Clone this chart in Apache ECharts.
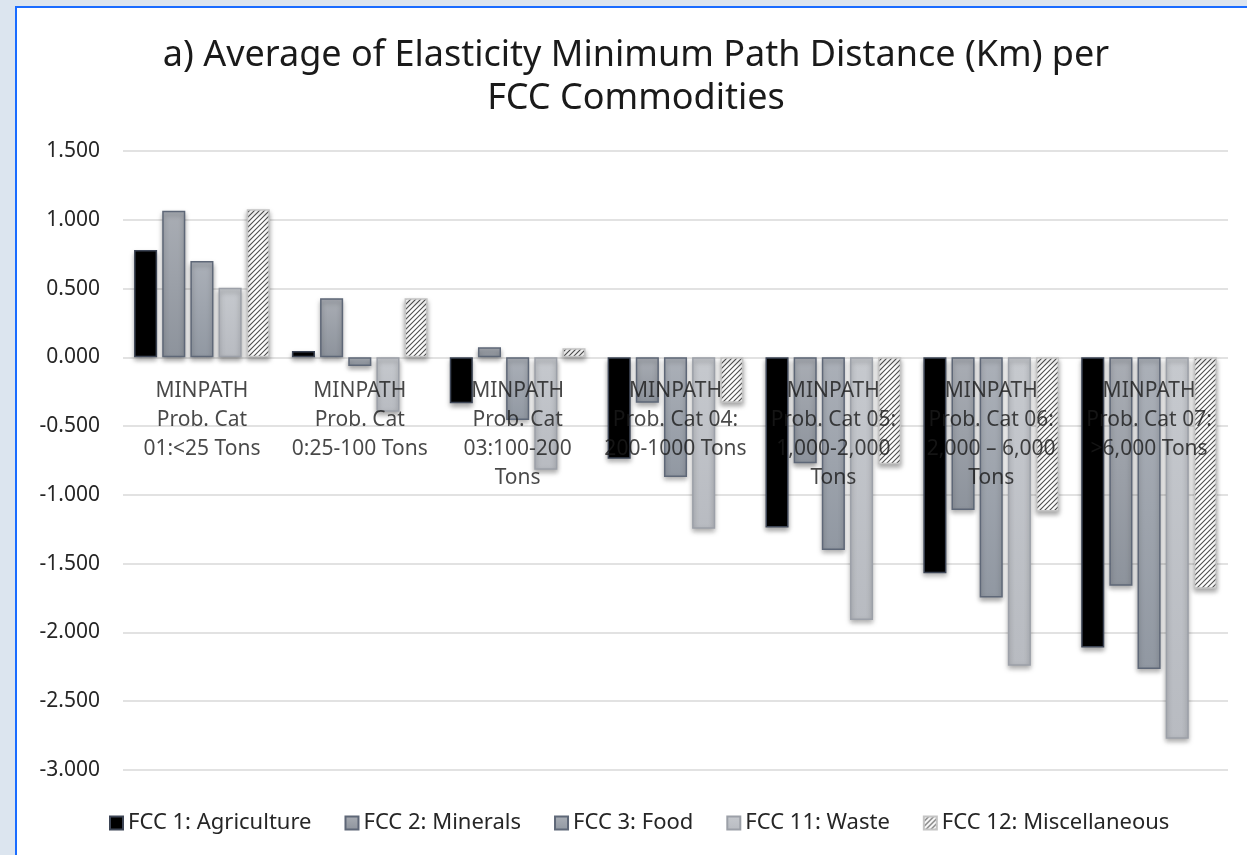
<!DOCTYPE html>
<html>
<head>
<meta charset="utf-8">
<script src="https://cdn.jsdelivr.net/npm/echarts@6/dist/echarts.min.js"></script>
<style>
  html, body { margin: 0; padding: 0; width: 1247px; height: 855px; overflow: hidden; background: #dce5ef; }
  #frame { position: absolute; left: 15px; top: 6px; width: 1240px; height: 860px; background: #ffffff;
           border-left: 2px solid #1a6cff; border-top: 2px solid #1a6cff; }
  #chart { position: absolute; left: 0; top: 0; width: 1247px; height: 855px; }
</style>
</head>
<body>
<div id="frame"></div>
<div id="chart"></div>
<script>
// Tonnage categories (axis labels, wrapped as they are displayed)
const categories = [
  'MINPATH\nProb. Cat\n01:<25 Tons',
  'MINPATH\nProb. Cat\n0:25-100 Tons',
  'MINPATH\nProb. Cat\n03:100-200\nTons',
  'MINPATH\nProb. Cat 04:\n200-1000 Tons',
  'MINPATH\nProb. Cat 05:\n1,000-2,000\nTons',
  'MINPATH\nProb. Cat 06:\n2,000 \u2013 6,000\nTons',
  'MINPATH\nProb. Cat 07:\n>6,000 Tons'
];

// Average elasticity per commodity group
const agriculture   = [0.780, 0.046, -0.334, -0.738, -1.237, -1.569, -2.110];
const minerals      = [1.066, 0.430,  0.073, -0.330, -0.770, -1.109, -1.661];
const food          = [0.700, -0.063, -0.455, -0.870, -1.400, -1.746, -2.265];
const waste         = [0.506, -0.395, -0.818, -1.247, -1.910, -2.243, -2.773];
const miscellaneous = [1.076, 0.430,  0.066, -0.330, -0.777, -1.120, -1.683];

const seriesNames = ['FCC 1: Agriculture', 'FCC 2: Minerals', 'FCC 3: Food', 'FCC 11: Waste', 'FCC 12: Miscellaneous'];

// Diagonal hatch tile for the miscellaneous bars
function hatchTile() {
  const c = document.createElement('canvas');
  c.width = 5; c.height = 5;
  const g = c.getContext('2d');
  g.fillStyle = '#ffffff';
  g.fillRect(0, 0, 5, 5);
  g.strokeStyle = '#505050';
  g.lineWidth = 1.1;
  g.beginPath();
  g.moveTo(0, 5); g.lineTo(5, 0);
  g.moveTo(-1, 1); g.lineTo(1, -1);
  g.moveTo(4, 6); g.lineTo(6, 4);
  g.stroke();
  return c;
}

function grad(top, bottom) {
  return new echarts.graphic.LinearGradient(0, 0, 0, 1, [
    { offset: 0, color: top }, { offset: 1, color: bottom }
  ]);
}

const shadow = { shadowColor: 'rgba(0,0,0,0.35)', shadowBlur: 5, shadowOffsetY: 3 };

const styles = [
  Object.assign({ color: '#000000', borderColor: '#3d4555', borderWidth: 1.5 }, shadow),
  Object.assign({ color: grad('#a9adb4', '#8d939c'), borderColor: '#5e6777', borderWidth: 1.5 }, shadow),
  Object.assign({ color: grad('#abb0b8', '#9198a2'), borderColor: '#5f6878', borderWidth: 1.5 }, shadow),
  Object.assign({ color: grad('#c6c9ce', '#b8bbc1'), borderColor: '#9ca0a8', borderWidth: 1.5 }, shadow),
  Object.assign({ color: { image: hatchTile(), repeat: 'repeat' }, borderColor: '#c4c4c4', borderWidth: 1.5 }, shadow)
];

const values = [agriculture, minerals, food, waste, miscellaneous];

const chart = echarts.init(document.getElementById('chart'), null, { renderer: 'canvas' });

const font = '"Noto Sans", "Open Sans", sans-serif';

const barSeries = seriesNames.map((name, i) => ({
  name: name,
  type: 'bar',
  data: values[i],
  barGap: '22%',
  barCategoryGap: '14%',
  itemStyle: styles[i]
}));

// Category names sit just under the zero line and are drawn over the bars
const categoryLabels = {
  name: 'categoryLabels',
  type: 'scatter',
  z: 10,
  silent: true,
  symbolSize: 0,
  data: categories.map((c, i) => [i, 0]),
  label: {
    show: true,
    position: 'bottom',
    distance: 19,
    formatter: p => categories[p.dataIndex],
    fontFamily: font,
    fontSize: 21,
    lineHeight: 29,
    color: '#1a1a1a',
    textBorderWidth: 0,
    textBorderColor: 'transparent',
    align: 'center'
  },
  labelLayout: { hideOverlap: false }
};

chart.setOption({
  backgroundColor: 'transparent',
  animation: false,
  textStyle: { fontFamily: font },
  title: {
    text: 'a) Average of Elasticity Minimum Path Distance (Km) per\nFCC Commodities',
    left: 631,
    top: 29,
    textAlign: 'center',
    textStyle: { fontFamily: font, fontSize: 36, fontWeight: 'normal', color: '#1a1a1a', lineHeight: 43 }
  },
  legend: {
    bottom: 16,
    left: 104,
    itemWidth: 13,
    itemHeight: 13,
    itemGap: 33,
    icon: 'rect',
    data: seriesNames,
    textStyle: { fontFamily: font, fontSize: 22, color: '#262626' }
  },
  grid: { left: 123, right: 19, top: 151, bottom: 85, containLabel: false, outerBoundsMode: 'none' },
  xAxis: {
    type: 'category',
    data: categories,
    axisLine: { show: false },
    axisTick: { show: false },
    axisLabel: { show: false }
  },
  yAxis: {
    type: 'value',
    min: -3,
    max: 1.5,
    interval: 0.5,
    axisLine: { show: false },
    axisTick: { show: false },
    splitLine: { lineStyle: { color: '#d9d9d9', width: 1.5 } },
    axisLabel: {
      margin: 23,
      fontFamily: font,
      fontSize: 21,
      color: '#262626',
      formatter: v => v.toFixed(3)
    }
  },
  series: barSeries.concat([categoryLabels])
});
</script>
</body>
</html>
